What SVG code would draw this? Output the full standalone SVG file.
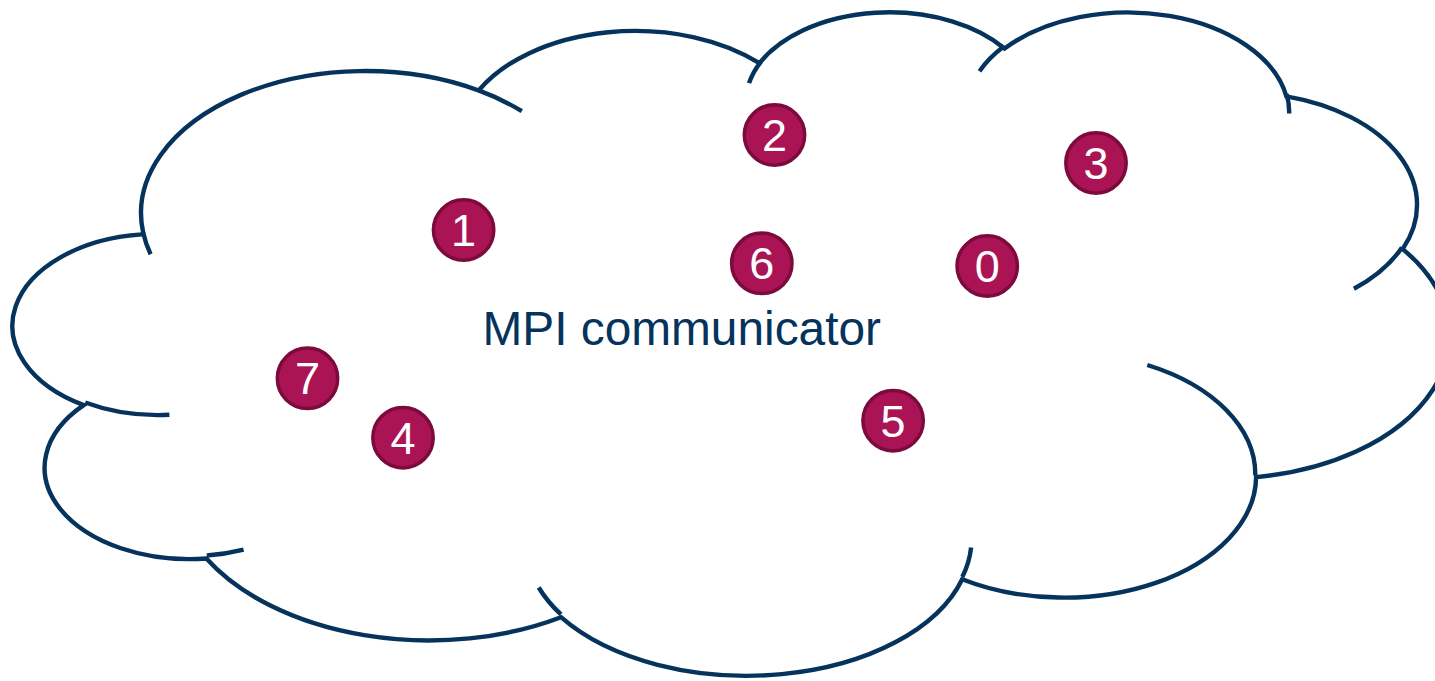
<svg xmlns="http://www.w3.org/2000/svg" width="1435" height="681" viewBox="0 0 1435 681">
  <style>
    .cloud { fill: none; stroke: #05335C; stroke-width: 4.4; }
    .node circle { fill: #AA1455; stroke: #7D0A3C; stroke-width: 3.5; }
    .node text { font-family: "Liberation Sans", Arial, sans-serif; font-size: 45px; fill: #FFFFFF; text-anchor: middle; }
    .label { font-family: "Liberation Sans", Arial, sans-serif; font-size: 47.8px; fill: #05335C; }
  </style>
  <rect width="1435" height="681" fill="#FFFFFF"/>
  <g id="cloud">
    <path class="cloud" d="M143.1,232.3
      A224.3,142.1 0 0 1 478.7,90.5
      A177.2,112.3 0 0 1 759.5,63.2
      A145.0,91.9 0 0 1 1004.6,48.5
      A161.3,102.0 0 0 1 1286.4,96.3
      A177.2,112.4 0 0 1 1402.7,249.1
      A225.1,142.5 0 0 1 1256.1,477.1
      A192.2,121.6 0 0 1 962.2,579.2
      A224.3,133.5 0 0 1 561.0,617.2
      A256.5,163.0 0 0 1 206.4,558.5
      A144.8,91.5 0 0 1 83.7,405.1
      A144.3,91.9 0 0 1 141.9,234.4 Z"/>
    <path class="cloud" d="M169.4,414.8 A144.3,91.9 0 0 1 85.2,402.5
      M243.6,549.6 A144.8,91.5 0 0 1 206.8,555.5
      M560.9,614.4 A224.3,133.5 0 0 1 538.7,587.5
      M971.1,547.4 A224.3,133.5 0 0 1 962.3,576.9
      M1147.3,365.0 A192.2,121.6 0 0 1 1255.3,475.3
      M1402.0,247.5 A177.2,112.4 0 0 1 1353.9,288.8
      M1286.6,94.0 A161.3,102.0 0 0 1 1289.2,113.5
      M979.5,71.2 A161.3,102.0 0 0 1 1004.1,46.3
      M749.0,83.1 A145.0,91.9 0 0 1 761.0,61.6
      M478.6,90.4 A224.3,142.1 0 0 1 521.8,111.2
      M150.6,254.2 A224.3,142.1 0 0 1 143.1,232.3"/>
  </g>
  <text id="label" class="label" x="482.5" y="345">MPI communicator</text>
  <g id="node-1" class="node"><circle cx="463.6" cy="230" r="30.2"/><text x="463.6" y="246.1">1</text></g>
  <g id="node-2" class="node"><circle cx="774.5" cy="135" r="30.2"/><text x="774.5" y="151.1">2</text></g>
  <g id="node-3" class="node"><circle cx="1096" cy="163" r="30.2"/><text x="1096" y="179.1">3</text></g>
  <g id="node-6" class="node"><circle cx="761.8" cy="263.3" r="30.2"/><text x="761.8" y="279.4">6</text></g>
  <g id="node-0" class="node"><circle cx="987.2" cy="266" r="30.2"/><text x="987.2" y="282.1">0</text></g>
  <g id="node-7" class="node"><circle cx="307.5" cy="378.3" r="30.2"/><text x="307.5" y="394.4">7</text></g>
  <g id="node-4" class="node"><circle cx="403" cy="437.7" r="30.2"/><text x="403" y="453.8">4</text></g>
  <g id="node-5" class="node"><circle cx="893.1" cy="420.7" r="30.2"/><text x="893.1" y="436.8">5</text></g>
  <g id="connectors"></g>
</svg>
